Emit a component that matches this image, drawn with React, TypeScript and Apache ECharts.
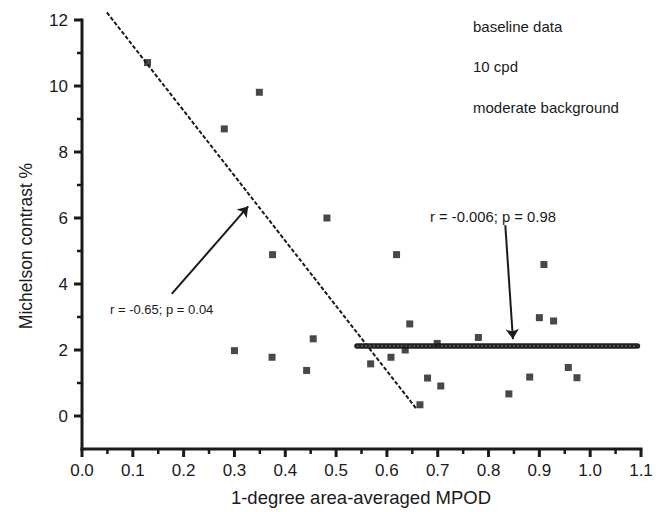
import React, { useEffect, useRef } from "react";
import * as echarts from "echarts";

const xVals = [0.129, 0.28, 0.349, 0.375, 0.482, 0.30, 0.374, 0.442, 0.455, 0.568, 0.608, 0.636, 0.645, 0.619, 0.665, 0.680, 0.699, 0.706, 0.780, 0.840, 0.881, 0.900, 0.909, 0.928, 0.957, 0.974];
const yVals = [10.71, 8.70, 9.81, 4.89, 6.0, 1.98, 1.78, 1.38, 2.34, 1.58, 1.78, 2.0, 2.79, 4.89, 0.34, 1.15, 2.2, 0.91, 2.38, 0.67, 1.18, 2.98, 4.59, 2.88, 1.47, 1.16];
const fitSteep = [[0.049, 12.23], [0.657, 0.24]];
const fitFlat = [[0.541, 2.12], [1.093, 2.12]];
const arrowLow = [[0.1766, 3.70], [0.327, 6.35]];
const arrowHigh = [[0.833, 5.78], [0.848, 2.33]];
const xMajor = [0, 0.1, 0.2, 0.3, 0.4, 0.5, 0.6, 0.7, 0.8, 0.9, 1.0, 1.1];
const xMinor = [0.05, 0.15, 0.25, 0.35, 0.45, 0.55, 0.65, 0.75, 0.85, 0.95, 1.05];
const yMajor = [0, 2, 4, 6, 8, 10, 12];
const yMinor = [1, 3, 5, 7, 9, 11];
const notes = ["baseline data", "10 cpd", "moderate background"];
const statLow = "r = -0.65; p = 0.04";
const statHigh = "r = -0.006; p = 0.98";
const xTitle = "1-degree area-averaged MPOD";
const yTitle = "Michelson contrast %";

const X_MIN = 0;
const X_MAX = 1.1;
const Y_MIN = -1;
const Y_MAX = 12;

const FONT = "'Liberation Sans', Arial, Helvetica, sans-serif";
const INK = "#1a1a1a";

export default function App() {
  const ref = useRef<HTMLDivElement>(null);
  useEffect(() => {
    const chart = echarts.init(ref.current!, null, { renderer: "svg" });
    const pts = xVals.map((x, i) => [x, yVals[i]]);

    // rows: [kind, value, tickLengthPx, lineWidthPx]; kind 0 = x tick, 1 = y tick, 2 = x axis line, 3 = y axis line
    const axisRows: number[][] = [
      [2, 0, 0, 3],
      [3, 0, 0, 3],
      ...xMajor.map((v) => [0, v, 8, 3]),
      ...xMinor.map((v) => [0, v, 5, 2.5]),
      ...yMajor.map((v) => [1, v, 8, 3]),
      ...yMinor.map((v) => [1, v, 5, 2.5]),
    ];

    const renderAxisMark = (_params: any, api: any) => {
      const kind = api.value(0);
      const v = api.value(1);
      const len = api.value(2);
      const w = api.value(3);
      let shape;
      if (kind === 0) {
        const p = api.coord([v, Y_MIN]);
        shape = { x1: p[0], y1: p[1], x2: p[0], y2: p[1] + len };
      } else if (kind === 1) {
        const p = api.coord([X_MIN, v]);
        shape = { x1: p[0], y1: p[1], x2: p[0] - len, y2: p[1] };
      } else if (kind === 2) {
        const a = api.coord([X_MIN, Y_MIN]);
        const b = api.coord([X_MAX, Y_MIN]);
        shape = { x1: a[0] - 1.5, y1: a[1], x2: b[0] + 1.5, y2: b[1] };
      } else {
        const a = api.coord([X_MIN, Y_MIN]);
        const b = api.coord([X_MIN, Y_MAX]);
        shape = { x1: a[0], y1: a[1] + 1.5, x2: b[0], y2: b[1] - 1.5 };
      }
      return {
        type: "line",
        shape,
        silent: true,
        style: { stroke: INK, lineWidth: w, fill: null },
      };
    };

    chart.setOption({
      animation: false,
      grid: { left: 82, right: 24, top: 20, bottom: 63 },
      xAxis: {
        type: "value",
        min: X_MIN,
        max: X_MAX,
        interval: 0.1,
        axisLine: { show: false, onZero: false },
        axisTick: { show: false },
        splitLine: { show: false },
        axisLabel: {
          fontSize: 17,
          color: INK,
          margin: 13,
          fontFamily: FONT,
          formatter: (v: number) => v.toFixed(1),
        },
      },
      yAxis: {
        type: "value",
        min: Y_MIN,
        max: Y_MAX,
        interval: 1,
        splitLine: { show: false },
        axisLine: { show: false },
        axisTick: { show: false },
        axisLabel: {
          fontSize: 17,
          color: INK,
          margin: 14,
          fontFamily: FONT,
          formatter: (v: number) => (Math.round(v) % 2 === 0 && v >= 0 ? String(Math.round(v)) : ""),
        },
      },
      series: [
        {
          type: "custom",
          coordinateSystem: "cartesian2d",
          renderItem: renderAxisMark,
          data: axisRows,
          encode: { x: 1, y: 2 },
          clip: false,
          silent: true,
          z: 2,
        },
        {
          type: "line",
          data: fitSteep,
          clip: false,
          symbol: "none",
          lineStyle: { color: INK, width: 2, type: [4, 2] },
          z: 3,
        },
        {
          type: "line",
          data: fitFlat,
          symbol: "none",
          lineStyle: { color: "#222", width: 5.5, cap: "round" },
          z: 3,
        },
        {
          type: "line",
          data: fitFlat,
          symbol: "none",
          lineStyle: { color: "#777", width: 1, type: [2, 2] },
          z: 4,
        },
        {
          type: "scatter",
          data: pts,
          symbol: "rect",
          symbolSize: 7,
          itemStyle: { color: INK },
          z: 5,
        },
        {
          type: "lines",
          coordinateSystem: "cartesian2d",
          symbol: ["none", "arrow"],
          symbolSize: [0, 10],
          lineStyle: { color: INK, width: 2, opacity: 1 },
          data: [{ coords: arrowLow }, { coords: arrowHigh }],
          z: 6,
        },
      ],
      graphic: [
        ...notes.map((t, i) => ({
          type: "text",
          x: 473,
          y: 26 + i * 40.5,
          style: { text: t, fontSize: 15, fill: INK, fontFamily: FONT, align: "left", verticalAlign: "middle" },
        })),
        {
          type: "text",
          x: 110,
          y: 309,
          style: { text: statLow, fontSize: 13, fill: INK, fontFamily: FONT, align: "left", verticalAlign: "middle" },
        },
        {
          type: "text",
          x: 430,
          y: 217,
          style: { text: statHigh, fontSize: 14.8, fill: INK, fontFamily: FONT, align: "left", verticalAlign: "middle" },
        },
        {
          type: "text",
          x: 361,
          y: 497,
          style: { text: xTitle, fontSize: 18.5, fill: INK, fontFamily: FONT, align: "center", verticalAlign: "middle" },
        },
        {
          type: "text",
          x: 26,
          y: 246,
          rotation: Math.PI / 2,
          style: { text: yTitle, fontSize: 17.5, fill: INK, fontFamily: FONT, align: "center", verticalAlign: "middle" },
        },
      ],
    });
    return () => chart.dispose();
  }, []);
  return (
    <div
      ref={ref}
      style={{ position: "absolute", left: 0, top: 0, width: 665, height: 512 }}
    />
  );
}
